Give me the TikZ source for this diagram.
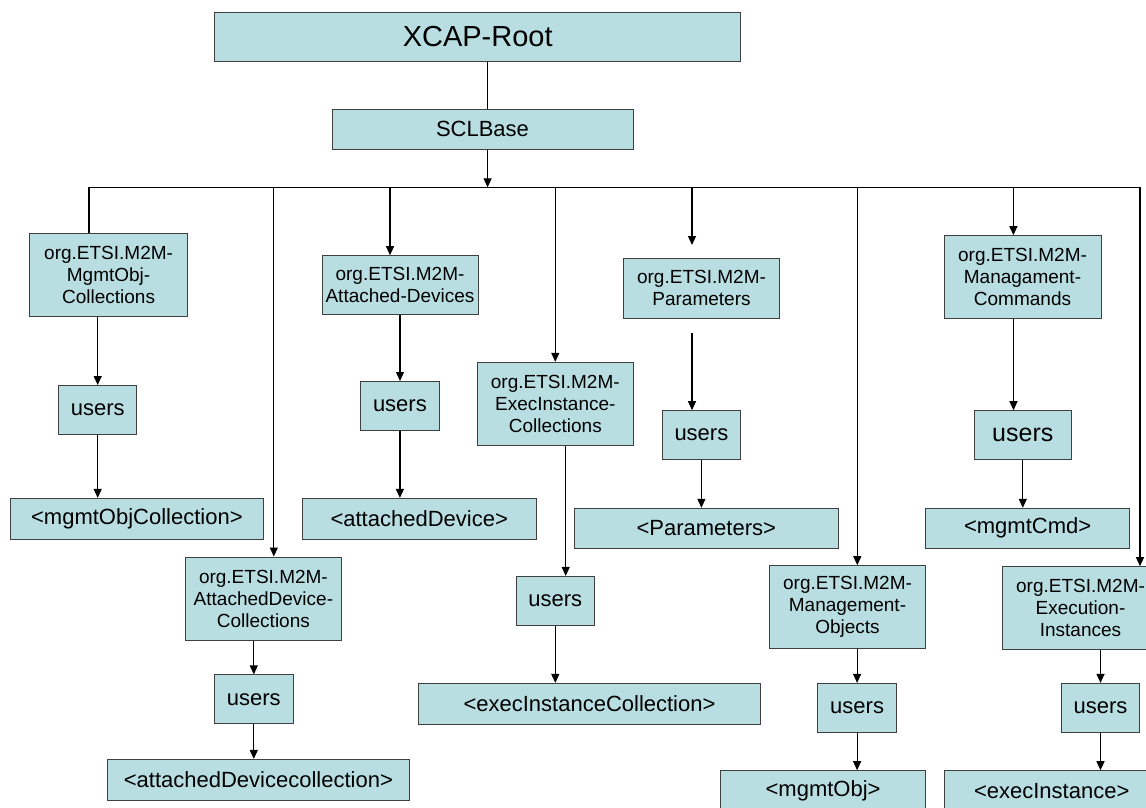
\documentclass[tikz,border=0pt]{standalone}
\usepackage{fontspec}
\setmainfont{Liberation Sans}
\usetikzlibrary{arrows.meta}
\definecolor{boxfill}{RGB}{184,222,226}

\begin{document}
\begin{tikzpicture}[x=1pt,y=-1pt,>={Triangle[width=8pt,length=9pt]},line width=1.2pt,
  box/.style={draw=black!75,fill=boxfill,line width=1pt,inner sep=0pt,align=center},
  dim/.style 2 args={minimum width=#1,minimum height=#2},
  org/.style={box,dim={156pt}{83pt},font=\fontsize{19}{22}\selectfont},
  users/.style={box,dim={78.4pt}{48.6pt},font=\fontsize{22}{26}\selectfont},
  item/.style={box,dim={#1}{40.6pt},font=\fontsize{22}{26}\selectfont}]
  \useasboundingbox (0,0) rectangle (1146,808);
  \fill[white] (0,0) rectangle (1146,808);
  \clip (0,0) rectangle (1146,808);

  % top of the tree
  \node[box,dim={526pt}{48.3pt},font=\fontsize{29}{34}\selectfont] (root) at (477.7,36.9) {XCAP-Root};
  \node[box,dim={301pt}{40pt},font=\fontsize{22}{26}\selectfont] (base) at (482.5,129.3) {SCLBase};

  % the bus and where each branch leaves it
  \coordinate (spine) at (487.6,187.3);
  \coordinate (d1) at (89,187.3);
  \coordinate (d2) at (273.8,187.3);
  \coordinate (d3) at (390,187.3);
  \coordinate (d4) at (555.3,187.3);
  \coordinate (d5) at (692,187.3);
  \coordinate (d6) at (857.3,187.3);
  \coordinate (d7) at (1013.4,187.3);
  \coordinate (d8) at (1140,187.3);

  % collections
  \node[org,dim={158pt}{83.4pt}] (mocoll) at (108.6,275) {org.ETSI.M2M-\\MgmtObj-\\Collections};
  \node[org,dim={156pt}{58.6pt}] (devs) at (400,285) {org.ETSI.M2M-\\Attached-Devices};
  \node[org] (eicoll) at (555.3,403.8) {org.ETSI.M2M-\\ExecInstance-\\Collections};
  \node[org,dim={156.5pt}{60pt}] (params) at (701.5,288.3) {org.ETSI.M2M-\\Parameters};
  \node[org,dim={157pt}{83.3pt}] (mcmds) at (1022.5,277.3) {org.ETSI.M2M-\\Managament-\\Commands};
  \node[org] (adcoll) at (263.4,598.5) {org.ETSI.M2M-\\AttachedDevice-\\Collections};
  \node[org] (mobjs) at (847.5,607.2) {org.ETSI.M2M-\\Management-\\Objects};
  \node[org,dim={156pt}{82.6pt}] (einst) at (1080.5,608) {org.ETSI.M2M-\\Execution-\\Instances};

  % users
  \node[users] (u1) at (97.7,409.8) {users};
  \node[users] (u2) at (399.9,405.8) {users};
  \node[users] (u3) at (253.8,699.2) {users};
  \node[users] (u4) at (555.3,600.7) {users};
  \node[users] (u5) at (701.4,435) {users};
  \node[users,dim={97.4pt}{48.6pt},font=\fontsize{25}{30}\selectfont] (u7) at (1022.8,435) {users};
  \node[users] (u6) at (857.1,707.7) {users};
  \node[users] (u8) at (1100.5,707.7) {users};

  % resources
  \node[item=253.8pt] (moc) at (136.9,518.7) {<mgmtObjCollection>};
  \node[item=233.7pt] (dev) at (419.2,518.7) {<attachedDevice>};
  \node[item=263.8pt,minimum height=40pt] (par) at (706.3,528.3) {<Parameters>};
  \node[item=204.6pt,minimum height=40pt] (cmd) at (1027.6,528.3) {<mgmtCmd>};
  \node[item=341.5pt] (eic) at (589.5,703.7) {<execInstanceCollection>};
  \node[item=302.2pt] (adc) at (258.4,779.7) {<attachedDevicecollection>};
  \node[item=205pt] (mo) at (823.1,791) {<mgmtObj>};
  \node[item=215pt] (ei) at (1051.7,791) {<execInstance>};

  % root down to the bus
  \draw (spine |- root.south) -- (spine |- base.north);
  \draw[->] (spine |- base.south) -- (spine);
  \draw (d1) -- (d8);

  % bus down to the collections
  \draw (d1) -- (d1 |- mocoll.north);
  \draw[->] (d2) -- (d2 |- adcoll.north);
  \draw[->] (d3) -- (d3 |- devs.north);
  \draw[->] (d4) -- (d4 |- eicoll.north);
  \coordinate (p0) at (692,245);
  \coordinate (p1) at (692,332.7);
  \draw[->] (d5) -- (p0);
  \draw[->] (d6) -- (d6 |- mobjs.north);
  \draw[->] (d7) -- (d7 |- mcmds.north);
  \draw[->] (d8) -- (d8 |- einst.north);

  % collections down to users
  \draw[->] (u1.north |- mocoll.south) -- (u1.north);
  \draw[->] (devs.south) -- (devs.south |- u2.north);
  \draw[->] (u3.north |- adcoll.south) -- (u3.north);
  \draw[->] ([xshift=10.4pt]eicoll.south) -- ([xshift=10.4pt]eicoll.south |- u4.north);
  \draw[->] (p1) -- (p1 |- u5.north);
  \draw[->] ([xshift=-9pt]mcmds.south) -- ([xshift=-9pt]mcmds.south |- u7.north);
  \draw[->] (u6.north |- mobjs.south) -- (u6.north);
  \draw[->] (u8.north |- einst.south) -- (u8.north);

  % users down to the resources
  \foreach \u/\r in {u1/moc,u2/dev,u3/adc,u4/eic,u5/par,u7/cmd,u6/mo,u8/ei}
    \draw[->] (\u.south) -- (\u.south |- \r.north);
\end{tikzpicture}
\end{document}
